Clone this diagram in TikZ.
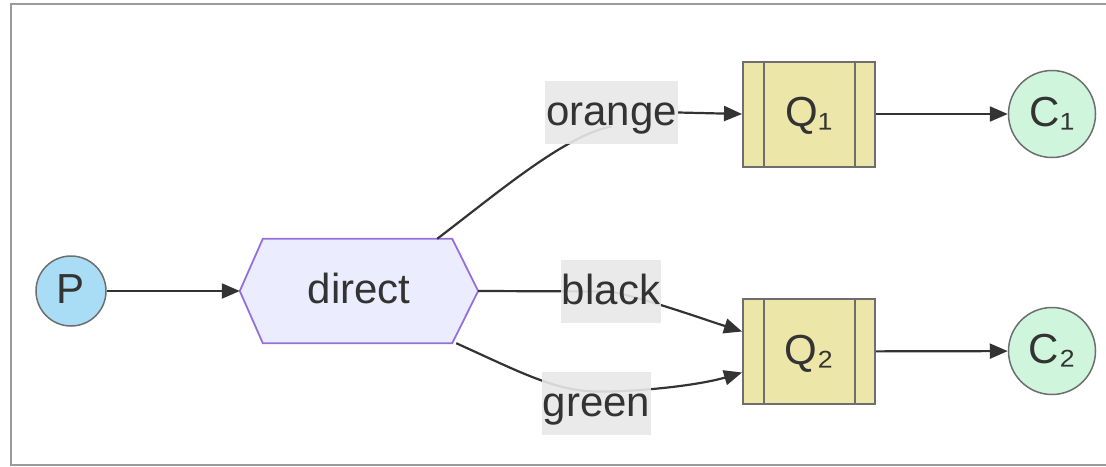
\documentclass[tikz,border=0pt]{standalone}
\usepackage{fontspec}
\setmainfont{Liberation Sans}
\usetikzlibrary{arrows.meta,backgrounds}
\definecolor{txt}{HTML}{333333}
\definecolor{pfill}{HTML}{A9DDF5}
\definecolor{hexfill}{HTML}{ECECFF}
\definecolor{hexline}{HTML}{9370DB}
\definecolor{qfill}{HTML}{ECE6A8}
\definecolor{qline}{HTML}{6E6E6E}
\definecolor{cfill}{HTML}{CFF5DC}
\definecolor{lblbg}{HTML}{E8E8E8}
\definecolor{framec}{HTML}{9A9A9A}
\begin{document}
\begin{tikzpicture}[x=1pt,y=-1pt,
  every node/.style={font=\fontsize{42}{50}\selectfont, text=txt},
  basenode/.style={inner sep=0pt, text height=33.6pt, text depth=8.4pt},
  pnode/.style={basenode, circle, draw=qline, line width=1.5pt, fill=pfill, minimum size=70pt},
  cnode/.style={basenode, circle, draw=qline, line width=1.5pt, fill=cfill, minimum size=87pt},
  hexnode/.style={basenode, minimum width=238pt, minimum height=104pt},
  hexshape/.style={draw=hexline, line width=1.8pt, fill=hexfill, line join=miter},
  qnode/.style={basenode, rectangle, draw=qline, line width=2pt, fill=qfill, minimum width=132pt, minimum height=105pt},
  qinner/.style={draw=qline, line width=2pt},
  lbl/.style={basenode, fill=lblbg, fill opacity=0.9, text opacity=1, inner xsep=1pt, inner ysep=10.5pt},
  edge/.style={draw=txt, line width=2.2pt},
  arr/.style={edge, -{Triangle[length=18pt, width=15pt]}}
]
\useasboundingbox (0,0) rectangle (1106,466);
\begin{scope}
  \clip (0,0) rectangle (1106,466);
  \draw[framec, line width=2.5pt] (11,4) rectangle (1120,465);
\end{scope}

\node[pnode] (P) at (71,291) {P};
\node[hexnode] (D) at (359,291) {direct};
\node[qnode] (Q1) at (809,114) {Q₁};
\node[qnode] (Q2) at (809,351.5) {Q₂};
\node[cnode] (C1) at (1052,114) {C₁};
\node[cnode] (C2) at (1052,351) {C₂};

\draw[qinner] ([xshift=22pt]Q1.north west) -- ([xshift=22pt]Q1.south west);
\draw[qinner] ([xshift=-21pt]Q1.north east) -- ([xshift=-21pt]Q1.south east);
\draw[qinner] ([xshift=22pt]Q2.north west) -- ([xshift=22pt]Q2.south west);
\draw[qinner] ([xshift=-21pt]Q2.north east) -- ([xshift=-21pt]Q2.south east);

\node[lbl] (lo) at (611.5,112.5) {orange};
\node[lbl] (lb) at (611,291.5) {black};
\node[lbl] (lg) at (596.5,403.5) {green};

\begin{scope}[on background layer]
  \path[hexshape] (D.west) -- ([xshift=23pt]D.north west) -- ([xshift=-26pt]D.north east)
    -- (D.east) -- ([xshift=-26pt]D.south east) -- ([xshift=23pt]D.south west) -- cycle;
  \draw[arr] (P) -- (D.west);
  \draw[edge] ([xshift=-41pt]D.north east) .. controls (495,195) and (565,135) .. ([yshift=-14pt]lo.center);
  \draw[arr] (lo.east) -- (Q1.west);
  \draw[edge] (D.east) -- (lb.center);
  \draw[arr] (lb.center) .. controls (650,300) and (700,318) .. ([yshift=20pt]Q2.west);
  \draw[arr] ([xshift=-22pt]D.south east) .. controls (520,372) and (555,391) .. ([yshift=12pt]lg.center)
    .. controls (640,392) and (700,385) .. ([yshift=-21pt]Q2.west);
  \draw[arr] (Q1) -- (C1);
  \draw[arr] (Q2) -- (C2);
\end{scope}
\end{tikzpicture}
\end{document}
